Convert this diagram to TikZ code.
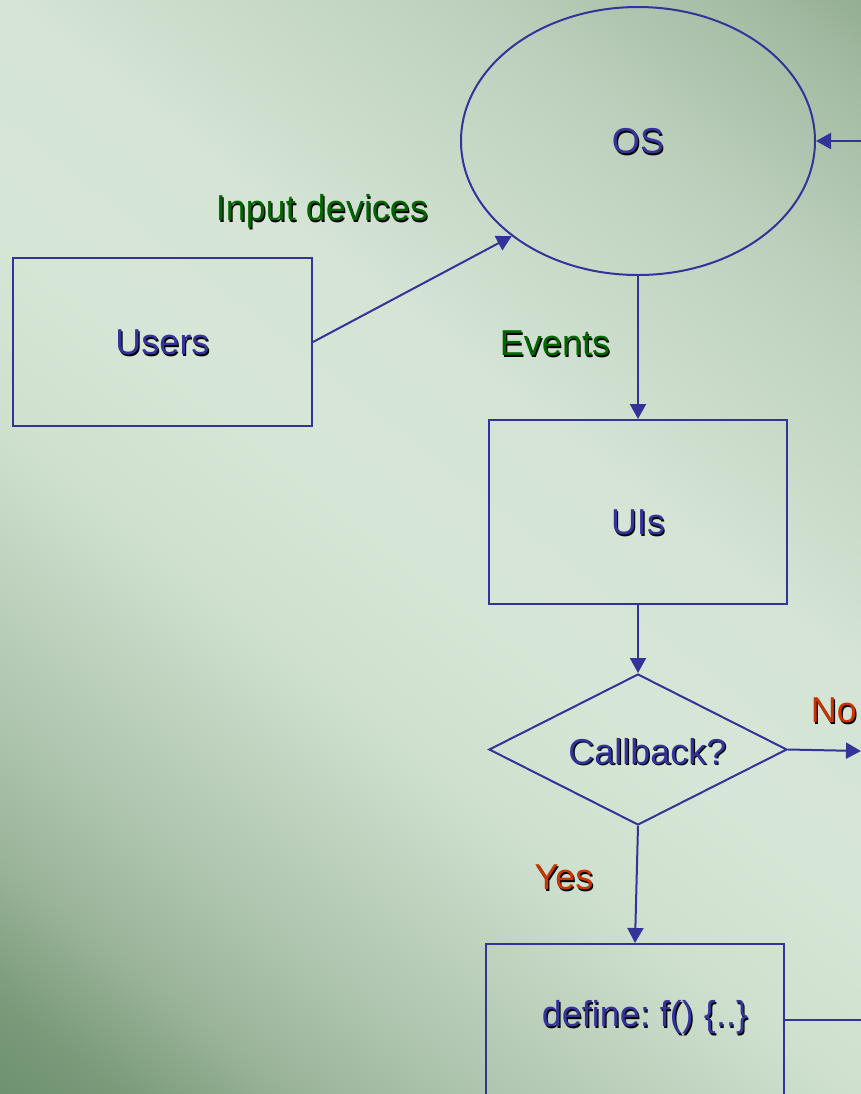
\documentclass[tikz,border=0pt]{standalone}
\usepackage{fontspec}
\setmainfont{Liberation Sans}
\usetikzlibrary{shapes.geometric,arrows.meta}
\definecolor{lineblue}{HTML}{333399}
\definecolor{tblue}{HTML}{333399}
\definecolor{tgreen}{HTML}{006600}
\definecolor{tred}{HTML}{CC3300}
\definecolor{bgA}{HTML}{6E9270}
\definecolor{bgB}{HTML}{7A9A7A}
\definecolor{bgC}{HTML}{9AB49A}
\definecolor{bgD}{HTML}{B0C6B0}
\definecolor{bgE}{HTML}{CFE0CF}
\definecolor{bgF}{HTML}{D6E6D6}
\definecolor{bgG}{HTML}{D5E4D5}
\definecolor{bgH}{HTML}{BCCFBC}
\definecolor{bgI}{HTML}{A2BAA2}
\definecolor{bgJ}{HTML}{93AE92}
\pgfdeclarehorizontalshading{bgaxis}{720bp}{color(0bp)=(bgA); color(36.8bp)=(bgB); color(92.2bp)=(bgC); color(154bp)=(bgD); color(263.5bp)=(bgE); color(336bp)=(bgF); color(430bp)=(bgG); color(575.6bp)=(bgH); color(662.3bp)=(bgI); color(693.5bp)=(bgJ)}
\newcommand\shtext[2]{\leavevmode\rlap{\kern0.6pt\raisebox{-0.6pt}{\color{black}#2}}{\color{#1}#2}}
\frenchspacing
\begin{document}
\begin{tikzpicture}[x=0.5pt, y=-0.5pt, line width=1pt,
  every node/.style={font=\fontsize{18pt}{21pt}\selectfont\frenchspacing, inner sep=0pt, text height=12.9pt, text depth=0pt},
  boxnode/.style={draw=lineblue, rectangle, minimum width=149pt},
  ellnode/.style={draw=lineblue, ellipse, minimum width=177pt, minimum height=134pt},
  dianode/.style={draw=lineblue, diamond, aspect=2, minimum width=149pt, minimum height=75.5pt},
  conn/.style={draw=lineblue, -{Triangle[length=7.5pt,width=8pt]}},
  plainconn/.style={draw=lineblue},
  lbl/.style={}]
\useasboundingbox (0,0) rectangle (861,1094);
\begin{scope}
  \clip (0,0) rectangle (861,1094);
  \fill[bgF] (0,0) rectangle (861,1094);
  \pgftext[at={\pgfpoint{215.25pt}{-273.5pt}}, rotate=51.8]{\pgfuseshading{bgaxis}}
\end{scope}
% nodes
\node[ellnode] (os) at (638,141) {\shtext{tblue}{OS}};
\node[boxnode, minimum width=149.5pt, minimum height=84pt] (users) at (162.5,342) {\shtext{tblue}{Users}};
\node[boxnode, minimum height=92pt, text height=22.9pt] (ui) at (638,512) {\shtext{tblue}{UIs}};
\node[dianode, text height=14.9pt] (dec) at (638,749.5) {\hspace*{9.5pt}\shtext{tblue}{Callback?}};
\node[boxnode, minimum height=76pt, text depth=6pt] (def) at (635,1020) {\hspace*{10pt}\shtext{tblue}{define: f() \{..\}}};
% labels
\node[lbl] (lin) at (322,208) {\shtext{tgreen}{Input devices}};
\node[lbl] (lev) at (555,343) {\shtext{tgreen}{Events}};
\node[lbl] (lno) at (834,710) {\shtext{tred}{No}};
\node[lbl] (lyes) at (564,877) {\shtext{tred}{Yes}};
% free ends
\coordinate (osin) at (861,141);
\coordinate (noout) at (861,751);
\coordinate (defout) at (861,1020);
% connectors
\draw[conn] (users.east) -- (os.217);
\draw[conn] (osin) -- (os.east);
\draw[conn] (os.south) -- (ui.north);
\draw[conn] (ui.south) -- (dec.north);
\draw[conn] (dec.east) -- (noout);
\draw[conn] (dec.south) -- (def.north);
\draw[plainconn] (def.east) -- (defout);
\end{tikzpicture}
\end{document}
